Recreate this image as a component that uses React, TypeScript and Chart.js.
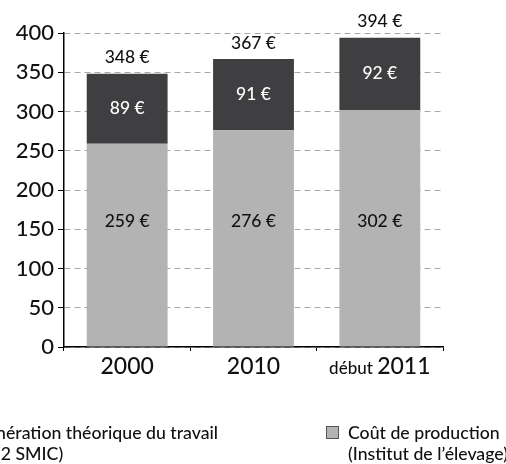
import React, { useEffect, useRef } from "react";
import { Chart, registerables } from "chart.js";

Chart.register(...registerables);

// ---- data ----
const categories = ["2000", "2010", "début 2011"];
const categoryPrefixes = ["", "", "début"];
const categoryYears = ["2000", "2010", "2011"];
const productionCost = [259, 276, 302];
const labourPay = [89, 91, 92];
const yMin = 0;
const yMax = 400;
const yStep = 50;
const seriesNames = ["Coût de production", "Rémunération théorique du travail"];
const seriesNotes = ["(Institut de l’élevage)", "(2 SMIC)"];

// ---- style ----
const FONT = "Lato, 'Open Sans', sans-serif";
const LIGHT = "#b3b3b4";
const DARK = "#3f3f41";
const COST_LABEL_LEVEL = 160;

const labelPlugin = {
  id: "valueLabels",
  afterDatasetsDraw(chart: any) {
    const ctx = chart.ctx as CanvasRenderingContext2D;
    const yScale = chart.scales.y;
    const m0 = chart.getDatasetMeta(0);
    const m1 = chart.getDatasetMeta(1);
    ctx.save();
    ctx.font = `500 17.5px ${FONT}`;
    ctx.textAlign = "center";
    ctx.textBaseline = "middle";
    m0.data.forEach((bar: any, i: number) => {
      ctx.fillStyle = "#111";
      ctx.fillText(`${productionCost[i]} €`, bar.x, yScale.getPixelForValue(COST_LABEL_LEVEL));
    });
    m1.data.forEach((bar: any, i: number) => {
      ctx.fillStyle = "#ffffff";
      ctx.fillText(`${labourPay[i]} €`, bar.x, (bar.y + bar.base) / 2);
      ctx.fillStyle = "#111";
      ctx.fillText(`${productionCost[i] + labourPay[i]} €`, bar.x, bar.y - 16);
    });
    ctx.restore();
  },
  afterDraw(chart: any) {
    const ctx = chart.ctx as CanvasRenderingContext2D;
    const xScale = chart.scales.x;
    const area = chart.chartArea;
    ctx.save();
    // category labels with small prefix
    ctx.textBaseline = "alphabetic";
    ctx.textAlign = "left";
    const baseY = area.bottom + 27;
    categories.forEach((_, i) => {
      const cx = xScale.getPixelForValue(i);
      const pre = categoryPrefixes[i] ? categoryPrefixes[i] + " " : "";
      ctx.font = `500 17px ${FONT}`;
      const wPre = pre ? ctx.measureText(pre).width : 0;
      ctx.font = `500 23px ${FONT}`;
      const wYear = ctx.measureText(categoryYears[i]).width;
      let x = cx - (wPre + wYear) / 2;
      ctx.fillStyle = "#111";
      if (pre) {
        ctx.font = `500 17px ${FONT}`;
        ctx.fillText(pre, x, baseY);
        x += wPre;
      }
      ctx.font = `500 23px ${FONT}`;
      ctx.fillText(categoryYears[i], x, baseY);
    });

    // legend
    ctx.font = `500 17.7px ${FONT}`;
    ctx.textBaseline = "middle";
    const l1 = 433;
    const l2 = 454;
    // left entry (partly outside the picture)
    ctx.textAlign = "right";
    ctx.fillStyle = "#111";
    ctx.fillText(seriesNames[1], 218, l1);
    const w1 = ctx.measureText(seriesNames[1]).width;
    ctx.textAlign = "left";
    ctx.fillText(seriesNotes[1], -4, l2);
    ctx.fillStyle = DARK;
    ctx.fillRect(218 - w1 - 22, l1 - 6, 13, 13);
    // right entry
    ctx.fillStyle = LIGHT;
    ctx.fillRect(326, l1 - 7, 13, 13);
    ctx.strokeStyle = "#555";
    ctx.lineWidth = 1;
    ctx.strokeRect(326.5, l1 - 6.5, 12, 12);
    ctx.fillStyle = "#111";
    ctx.fillText(seriesNames[0], 348, l1);
    ctx.fillText(seriesNotes[0], 348, l2);
    ctx.restore();
  },
};

export default function App() {
  const ref = useRef<HTMLCanvasElement | null>(null);
  useEffect(() => {
    if (!ref.current) return;
    const chart = new Chart(ref.current, {
      type: "bar",
      data: {
        labels: categories,
        datasets: [
          { label: seriesNames[0], data: productionCost, backgroundColor: LIGHT, borderWidth: 0 },
          { label: seriesNames[1], data: labourPay, backgroundColor: DARK, borderWidth: 0 },
        ],
      },
      options: {
        animation: false,
        responsive: true,
        maintainAspectRatio: false,
        datasets: { bar: { barPercentage: 0.64, categoryPercentage: 1 } },
        layout: { padding: { left: 0, right: 63, top: 33, bottom: 77 } },
        plugins: { legend: { display: false }, tooltip: { enabled: false } },
        scales: {
          x: {
            stacked: true,
            offset: true,
            afterFit: (s: any) => { s.height = 40; },
            grid: { drawOnChartArea: false, drawTicks: true, tickLength: 4, tickColor: "#000", offset: true },
            border: { display: true, color: "#000", width: 1.5 },
            ticks: { display: true, color: "rgba(0,0,0,0)", font: { family: FONT, size: 23 } },
          },
          y: {
            stacked: true,
            min: yMin,
            max: yMax,
            afterFit: (s: any) => { s.width = 64; },
            grid: { color: "#a8a8a8", lineWidth: 1, tickLength: 6, tickColor: "#000", drawTicks: true },
            border: { display: true, color: "#000", width: 1.5, dash: [6, 4] },
            ticks: { stepSize: yStep, padding: 4, color: "#111", font: { family: FONT, size: 22, weight: "500" } },
          },
        },
      },
      plugins: [labelPlugin],
    });
    return () => chart.destroy();
  }, []);
  return (
    <div style={{ position: "fixed", left: 0, top: 0, width: 506, height: 464, background: "#fff" }}>
      <canvas ref={ref} />
    </div>
  );
}
